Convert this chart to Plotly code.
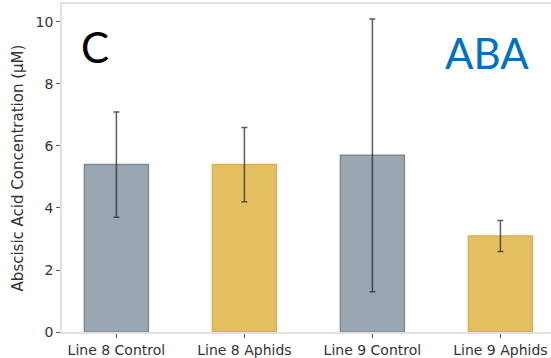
import plotly.graph_objects as go

# Abscisic acid measurements per line / treatment
categories = ["Line 8 Control", "Line 8 Aphids", "Line 9 Control", "Line 9 Aphids"]
aba_mean = [5.4, 5.4, 5.7, 3.1]
aba_err = [1.7, 1.2, 4.4, 0.5]
y_ticks = [0, 2, 4, 6, 8, 10]

gray_fill, gray_edge = "rgb(154,167,178)", "rgb(122,140,148)"
gold_fill, gold_edge = "rgb(228,191,96)", "rgb(215,176,82)"
fills = [gray_fill, gold_fill, gray_fill, gold_fill]
edges = [gray_edge, gold_edge, gray_edge, gold_edge]

W, H = 551, 358
ML, MT, MB, MR = 62, 4, 26, 0

fig = go.Figure(
    go.Bar(
        x=list(range(len(categories))),
        y=aba_mean,
        width=0.5,
        marker=dict(color=fills, line=dict(color=edges, width=1.5)),
        error_y=dict(type="data", array=aba_err, symmetric=True,
                     color="rgba(40,40,40,0.75)", thickness=1.5, width=3),
        showlegend=False,
    )
)

grid_col = "rgb(226,226,226)"
font_main = "DejaVu Sans"

fig.update_layout(
    width=W, height=H,
    margin=dict(l=ML, r=MR, t=MT, b=MB),
    paper_bgcolor="white", plot_bgcolor="white",
    font=dict(family=font_main, color="rgb(51,51,51)", size=13),
    xaxis=dict(
        range=[-0.425, -0.425 + (W - ML - MR) / 128.0],
        tickmode="array", tickvals=list(range(len(categories))), ticktext=categories,
        showgrid=False, zeroline=False,
        showline=True, linecolor=grid_col, linewidth=1.5, mirror=True,
        ticks="outside", ticklen=4, tickwidth=1, tickcolor="rgb(90,90,90)",
        tickfont=dict(size=14),
    ),
    yaxis=dict(
        range=[0, 10.58],
        tickmode="array", tickvals=y_ticks,
        showgrid=False, zeroline=False,
        showline=True, linecolor=grid_col, linewidth=1.5,
        ticks="outside", ticklen=4, tickwidth=1, tickcolor="rgb(90,90,90)",
        tickfont=dict(size=14),
        title=dict(text="Abscisic Acid Concentration (μM)", font=dict(size=15), standoff=8),
    ),
    annotations=[
        dict(text="C", xref="paper", yref="paper", x=(95 - ML) / 489, y=(332 - 47) / 328,
             showarrow=False, font=dict(family="Lato", size=42, color="black"),
             xanchor="center", yanchor="middle"),
        dict(text="ABA", xref="paper", yref="paper", x=(487 - ML) / 489, y=(332 - 53) / 328,
             showarrow=False, font=dict(family="Lato", size=42, color="rgb(0,112,192)"),
             xanchor="center", yanchor="middle"),
    ],
)

fig.write_html("out.html")
